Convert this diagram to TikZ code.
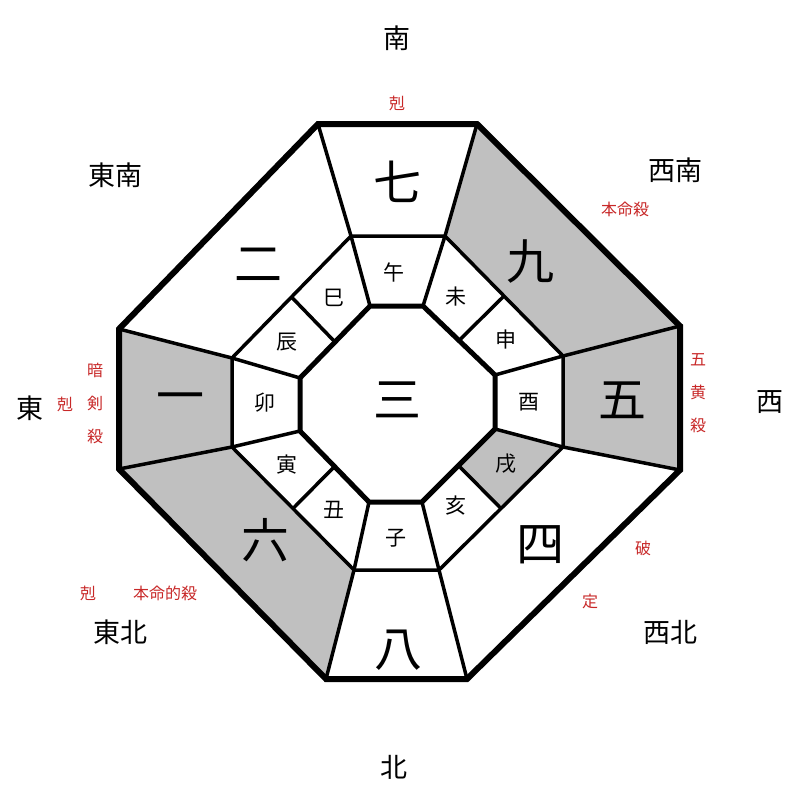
\documentclass[tikz,border=0pt]{standalone}
\usepackage{fontspec}
\usetikzlibrary{calc}
\newfontfamily\cjk{Noto Sans CJK JP}
\definecolor{cellgray}{RGB}{192,192,192}
\definecolor{labred}{RGB}{200,40,40}
\begin{document}
\begin{tikzpicture}[x=1pt,y=-1pt,
  thick line/.style={line width=5pt,line join=miter},
  mid line/.style={line width=3.5pt},
  big/.style={font=\cjk\fontsize{48}{48}\selectfont},
  branch/.style={font=\cjk\fontsize{21}{21}\selectfont},
  dir/.style={font=\cjk\fontsize{27}{27}\selectfont},
  warn/.style={font=\cjk\fontsize{16}{16}\selectfont,text=labred}]
\fill[white] (0,0) rectangle (800,800);
\useasboundingbox (0,0) rectangle (800,800);
% outer
\coordinate (O1) at (318,124); \coordinate (O2) at (477,124);
\coordinate (O3) at (680,326); \coordinate (O4) at (680,470);
\coordinate (O5) at (467,679); \coordinate (O6) at (326,679);
\coordinate (O7) at (119,469); \coordinate (O8) at (119,329);
% middle
\coordinate (M1) at (351,236); \coordinate (M2) at (445,236);
\coordinate (M3) at (563,356); \coordinate (M4) at (563,447);
\coordinate (M5) at (439,570); \coordinate (M6) at (354,570);
\coordinate (M7) at (232,447); \coordinate (M8) at (232,358);
% inner
\coordinate (I1) at (370,306); \coordinate (I2) at (423,306);
\coordinate (I3) at (495,375); \coordinate (I4) at (495,429);
\coordinate (I5) at (422,502); \coordinate (I6) at (369,502);
\coordinate (I7) at (300,431); \coordinate (I8) at (300,378);
% gray cells
\fill[cellgray] (O2)--(O3)--(M3)--(M2)--cycle;
\fill[cellgray] (O3)--(O4)--(M4)--(M3)--cycle;
\fill[cellgray] (O6)--(O7)--(M7)--(M6)--cycle;
\fill[cellgray] (O7)--(O8)--(M8)--(M7)--cycle;
\fill[cellgray] (M4)--($(M4)!0.5!(M5)$)--($(I4)!0.5!(I5)$)--(I4)--cycle;
% middle ring + dividers
\draw[mid line] (M1)--(M2)--(M3)--(M4)--(M5)--(M6)--(M7)--(M8)--cycle;
\foreach \a/\b in {O1/M1,O2/M2,O3/M3,O4/M4,O5/M5,O6/M6,O7/M7,O8/M8,I1/M1,I2/M2,I3/M3,I4/M4,I5/M5,I6/M6,I7/M7,I8/M8}
  \draw[mid line] (\a)--(\b);
\foreach \a/\b/\c/\d in {I2/I3/M2/M3,I4/I5/M4/M5,I6/I7/M6/M7,I8/I1/M8/M1}
  \draw[mid line] ($(\a)!0.5!(\b)$)--($(\c)!0.5!(\d)$);
\draw[thick line] (I1)--(I2)--(I3)--(I4)--(I5)--(I6)--(I7)--(I8)--cycle;
\draw[line width=6pt,line join=miter] (O1)--(O2)--(O3)--(O4)--(O5)--(O6)--(O7)--(O8)--cycle;
% numerals
\node[big] (n7) at (397,182) {七};
\node[big] (n9) at (530,262) {九};
\node[big] (n5) at (622,400) {五};
\node[big] (n4) at (540,545) {四};
\node[big] (n8) at (398,650) {八};
\node[big] (n6) at (265,540) {六};
\node[big] (n1) at (180,403) {一};
\node[big] (n2) at (258,265) {二};
\node[big] (n3) at (397,400) {三};
% branches
\node[branch] (b1) at (394,272) {午};
\node[branch] (b2) at (456,297) {未};
\node[branch] (b3) at (506,340) {申};
\node[branch] (b4) at (529,402) {酉};
\node[branch] (b5) at (506,464) {戌};
\node[branch] (b6) at (456,506) {亥};
\node[branch] (b7) at (396,538) {子};
\node[branch] (b8) at (334,510) {丑};
\node[branch] (b9) at (287,465) {寅};
\node[branch] (b10) at (265,403) {卯};
\node[branch] (b11) at (287,342) {辰};
\node[branch] (b12) at (334,298) {巳};
% directions
\node[dir] (dS) at (397,38) {南};
\node[dir] (dN) at (394,767) {北};
\node[dir] (dE) at (30,408) {東};
\node[dir] (dW) at (770,402) {西};
\node[dir] (dSE) at (115,175) {東南};
\node[dir] (dSW) at (675,170) {西南};
\node[dir] (dNE) at (120,632) {東北};
\node[dir] (dNW) at (670,632) {西北};
% red labels
\node[warn] (r1) at (397,103) {剋};
\node[warn] (r2) at (625,209) {本命殺};
\node[warn,align=center,font=\cjk\fontsize{16}{33}\selectfont] (r3) at (698,393) {五\\黄\\殺};
\node[warn,align=center,font=\cjk\fontsize{16}{33}\selectfont] (r4) at (95,403) {暗\\剣\\殺};
\node[warn] (r5) at (65,404) {剋};
\node[warn] (r6) at (88,593) {剋};
\node[warn] (r7) at (165,593) {本命的殺};
\node[warn] (r8) at (643,548) {破};
\node[warn] (r9) at (590,601) {定};
\end{tikzpicture}
\end{document}
